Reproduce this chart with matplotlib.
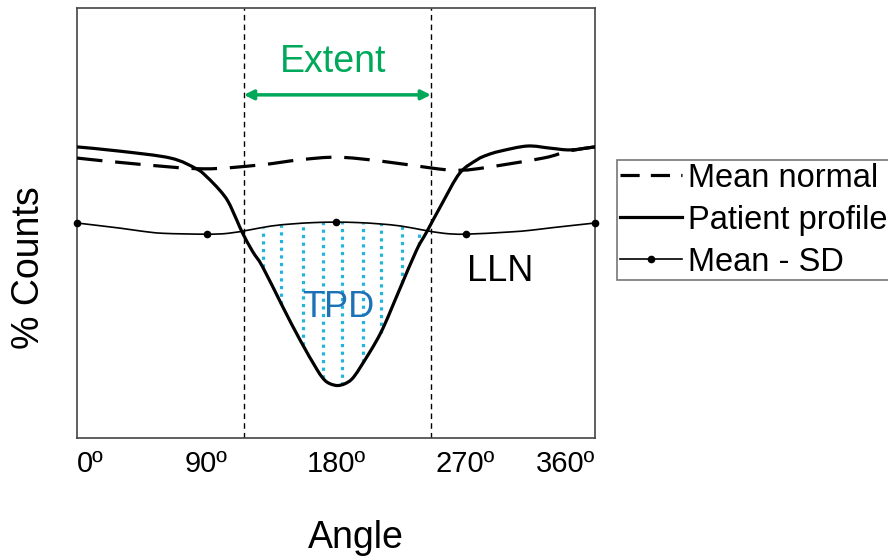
import numpy as np
import matplotlib.pyplot as plt
from matplotlib.path import Path
from matplotlib.patches import PathPatch
from matplotlib.lines import Line2D

plt.rcParams['font.family'] = ['Liberation Sans', 'DejaVu Sans']

# values (angle in degrees, counts on a 0-100 scale)
patient_ang = [0, 30, 65, 83, 90, 99, 105, 111, 115, 122, 129, 143, 155, 167, 172, 176, 181, 186,
               191, 197, 211, 224, 236, 243, 254, 266, 278, 285, 294, 313, 329, 343, 360]
patient_val = [67.7, 66.7, 65.1, 62.6, 60.8, 57.7, 55.0, 50.7, 47.7, 43.4, 39.8, 30.5, 22.8, 15.8, 13.5, 12.6, 12.2, 12.6,
               13.7, 16.5, 24.4, 34.4, 43.7, 47.9, 54.7, 61.6, 64.7, 65.8, 66.7, 67.9, 67.4, 67.0, 67.7]

normal_ang = [0, 42, 88, 127, 155, 181, 211, 246, 261, 278, 324, 341, 360]
normal_val = [65.1, 63.7, 62.6, 63.5, 64.7, 65.3, 64.4, 62.8, 62.3, 62.6, 65.1, 66.7, 67.7]

sd_ang = [0, 30, 45, 60, 90, 105, 120, 135, 150, 165, 180, 195, 210, 225, 240, 255, 270, 300, 315, 330, 360]
sd_val = [50.0, 48.8, 48.1, 47.6, 47.4, 47.6, 48.4, 49.3, 49.8, 50.1, 50.2, 50.1, 49.8, 49.3, 48.4, 47.6,
          47.4, 47.9, 48.3, 48.9, 50.0]
sd_mark_ang = [0, 90, 180, 270, 360]
sd_mark_val = [50.0, 47.4, 50.2, 47.4, 50.0]

extent_lo = 116
extent_hi = 246
tpd_lines = [129, 142, 157, 171, 184, 199, 211, 226, 238]

ticks = [0, 90, 180, 270, 360]
tick_labels = ['0º', '90º', '180º', '270º', '360º']

green = '#00a85a'
blue = '#1c72b6'
cyan = '#22b4da'


def smooth_path(xs, ys):
    # smoothed line like the spreadsheet one: bezier segments through the points
    p = np.column_stack([xs, ys]).astype(float)
    p = np.vstack([p[0], p, p[-1]])
    verts = [p[1]]
    codes = [Path.MOVETO]
    for i in range(1, len(p) - 2):
        c1 = p[i] + (p[i + 1] - p[i - 1]) / 6
        c2 = p[i + 1] - (p[i + 2] - p[i]) / 6
        verts += [c1, c2, p[i + 1]]
        codes += [Path.CURVE4] * 3
    return Path(verts, codes)


fig = plt.figure(figsize=(8.88, 5.57), dpi=100)
ax = fig.add_axes([77/888, 1-438/557, 518/888, 430/557])
ax.set_xlim(0, 360)
ax.set_ylim(0, 100)

# TPD hatch: dotted verticals between LLN and patient curve
lo = np.interp(tpd_lines, patient_ang, patient_val)
hi = np.interp(tpd_lines, sd_ang, sd_val)
ax.vlines(tpd_lines, lo, hi, colors=cyan, linestyles=(0, (1, 1.4)), lw=2.3, zorder=1)

ax.axvline(extent_lo, color='black', lw=1, ls=(0, (4, 3)), zorder=2)
ax.axvline(extent_hi, color='black', lw=1, ls=(0, (4, 3)), zorder=2)

normal_ls = (0, (8, 4))
ax.add_patch(PathPatch(smooth_path(normal_ang, normal_val), fill=False, edgecolor='black',
                       lw=2.3, ls=normal_ls, zorder=3))
ax.add_patch(PathPatch(smooth_path(patient_ang, patient_val), fill=False, edgecolor='black',
                       lw=2.3, zorder=4))
ax.add_patch(PathPatch(smooth_path(sd_ang, sd_val), fill=False, edgecolor='black',
                       lw=1.2, zorder=3))
ax.plot(sd_mark_ang, sd_mark_val, ls='none', marker='o', color='black', markersize=4.5,
        zorder=5, clip_on=False)

ax.annotate('', xy=(extent_lo, 79.8), xytext=(extent_hi, 79.8),
            arrowprops=dict(arrowstyle='<|-|>', color=green, lw=2.5, mutation_scale=14,
                            shrinkA=0, shrinkB=0))
ax.text(178, 85.1, 'Extent', color=green, fontsize=27, ha='center', va='baseline')
ax.text(181.5, 28.1, 'TPD', color=blue, fontsize=26, ha='center', va='baseline', zorder=6)
ax.text(271, 36.5, 'LLN', color='black', fontsize=26, ha='left', va='baseline')

ax.set_xticks(ticks)
ax.set_xticklabels(tick_labels, fontsize=21)
ax.set_yticks([])
ax.tick_params(axis='x', length=0, pad=9)
labs = ax.get_xticklabels()
labs[0].set_ha('left')
labs[-1].set_ha('right')
for s in ax.spines.values():
    s.set_color('#444444')
    s.set_linewidth(1.2)

fig.text(356/888, (557-548)/557, 'Angle', fontsize=27, ha='center', va='baseline')
fig.text(29/888, 1-268/557, '% Counts', fontsize=27, rotation=90, ha='center', va='center')

handles = [
    Line2D([], [], color='black', lw=2.3, ls=(0, (6, 3.5))),
    Line2D([], [], color='black', lw=2.3),
    Line2D([], [], color='black', lw=1.2, marker='o', markersize=4.5),
]
leg = fig.legend(handles=handles, labels=['Mean normal', 'Patient profile', 'Mean - SD'],
                 loc='upper left', bbox_to_anchor=(617/888, 1-160/557),
                 fontsize=23.5, frameon=True, fancybox=False, edgecolor='#555555',
                 handlelength=1.9, handletextpad=0.2, labelspacing=0.34, borderpad=0.08,
                 borderaxespad=0)
leg.get_frame().set_linewidth(1.2)

fig.savefig('out.png', dpi=100)
